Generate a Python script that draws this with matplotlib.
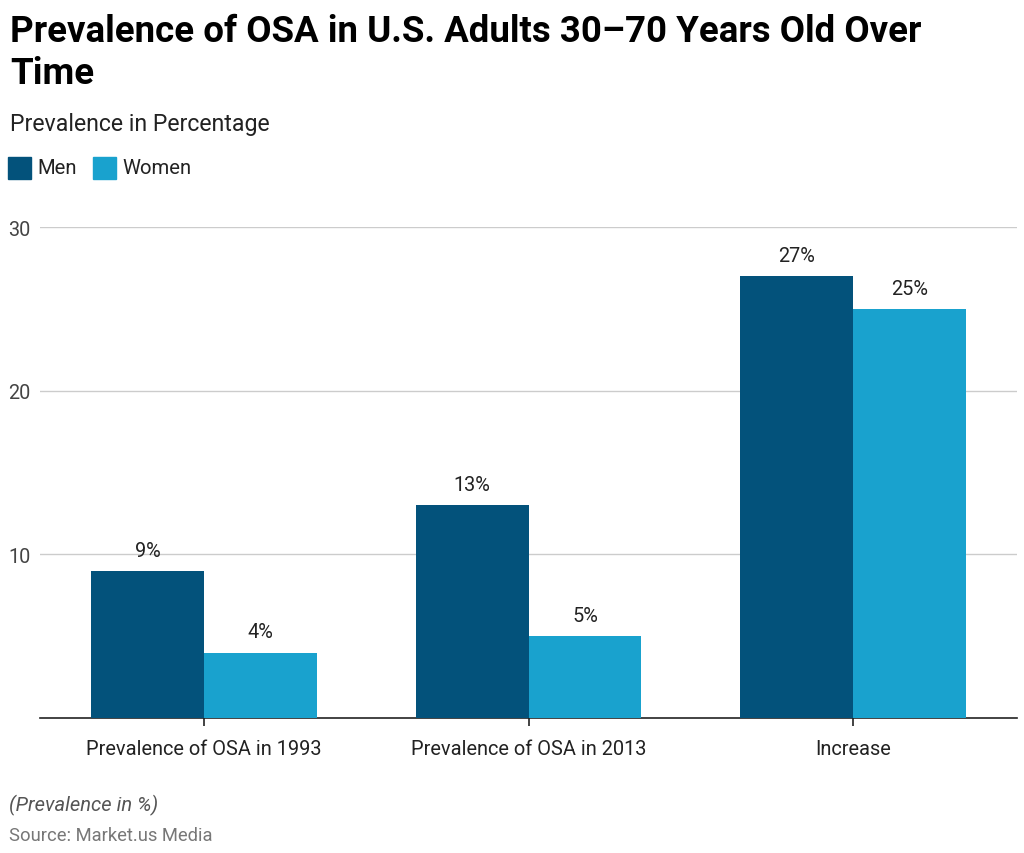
import numpy as np
import matplotlib.pyplot as plt

plt.rcParams['font.family'] = ['Roboto', 'DejaVu Sans']

categories = ["Prevalence of OSA in 1993", "Prevalence of OSA in 2013", "Increase"]
men = [9, 13, 27]
women = [4, 5, 25]
men_color = "#03527b"
women_color = "#19a2ce"

fig = plt.figure(figsize=(10.24, 8.54), dpi=100)
ax = fig.add_axes([40/1024, 1 - 719/854, 977/1024, (719 - 228)/854])

x = np.arange(len(categories))
w = 0.348
b1 = ax.bar(x - w/2, men, w, color=men_color, zorder=3)
b2 = ax.bar(x + w/2, women, w, color=women_color, zorder=3)

for bars, vals in ((b1, men), (b2, women)):
    for r, v in zip(bars, vals):
        ax.annotate(f"{v}%", (r.get_x() + r.get_width()/2, v), xytext=(0, 8),
                    textcoords="offset points", ha="center", va="bottom",
                    fontsize=14.3, color="#222222")

ax.set_xlim(-0.505, 2.505)
ax.set_ylim(0, 30)
ax.set_yticks([10, 20, 30])
ax.set_xticks(x)
ax.set_xticklabels(categories)
ax.grid(axis="y", color="#cccccc", linewidth=1, zorder=0)
for s in ["top", "right", "left"]:
    ax.spines[s].set_visible(False)
ax.spines["bottom"].set_color("#222222")
ax.spines["bottom"].set_linewidth(1.2)
ax.tick_params(axis="y", length=0, pad=7, labelsize=14.3, labelcolor="#444444")
ax.tick_params(axis="x", length=6, width=1.2, color="#222222", pad=9,
               labelsize=14.4, labelcolor="#222222")

fig.text(10/1024, 1 - 42/854, "Prevalence of OSA in U.S. Adults 30–70 Years Old Over",
         fontsize=26.4, fontweight="bold", va="baseline", ha="left")
fig.text(10/1024, 1 - 84/854, "Time", fontsize=26.4, fontweight="bold",
         va="baseline", ha="left")
fig.text(10/1024, 1 - 131/854, "Prevalence in Percentage", fontsize=16.7,
         va="baseline", ha="left", color="#222222")

# legend
for i, (lab, col, x0) in enumerate((("Men", men_color, 8), ("Women", women_color, 93))):
    fig.patches.append(plt.Rectangle((x0/1024, 1 - 180/854), 23/1024, 22/854,
                                     color=col, transform=fig.transFigure, figure=fig))
    fig.text((x0 + 29)/1024, 1 - 174/854, lab, fontsize=14.6, va="baseline",
             ha="left", color="#222222")

fig.text(9/1024, 1 - 811/854, "(Prevalence in %)", fontsize=14.5, style="italic",
         color="#555555", va="baseline", ha="left")
fig.text(9/1024, 1 - 841/854, "Source: Market.us Media", fontsize=13.2,
         color="#777777", va="baseline", ha="left")

fig.savefig("out.png", dpi=100)
